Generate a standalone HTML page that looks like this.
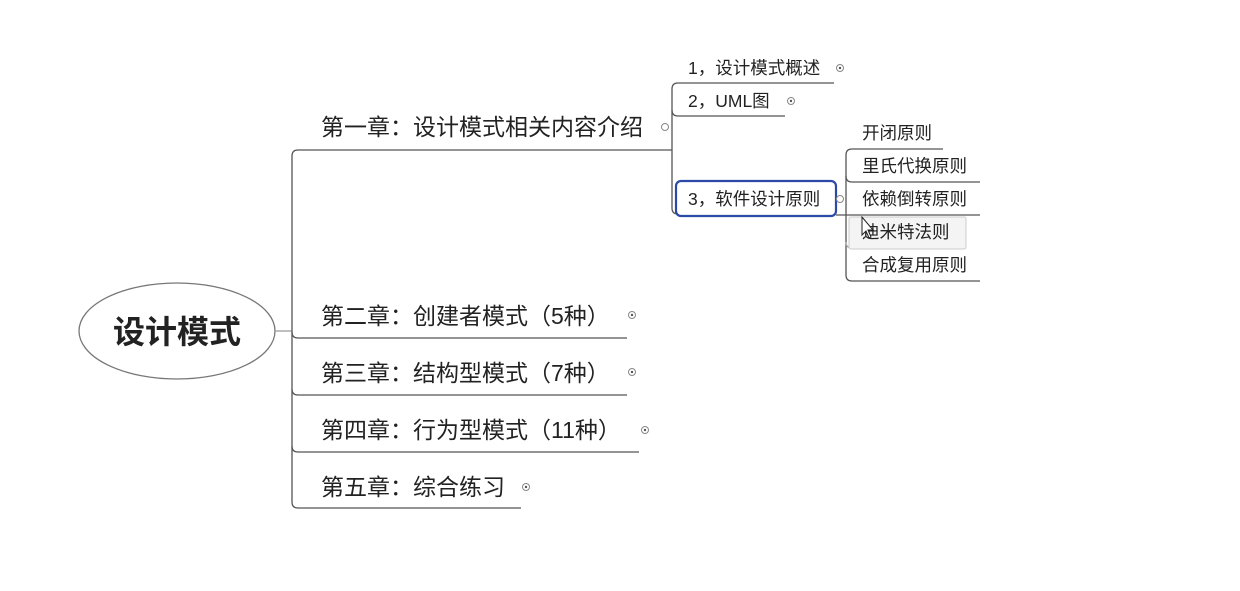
<!DOCTYPE html>
<html><head><meta charset="utf-8"><style>
html,body{margin:0;padding:0;background:#fff;width:1240px;height:591px;overflow:hidden}
svg text{font-family:"Liberation Sans","Noto Sans CJK SC",sans-serif;fill:#222}
</style></head><body>
<svg width="1240" height="591" viewBox="0 0 1240 591" xmlns="http://www.w3.org/2000/svg">
<g fill="none" stroke="#555" stroke-width="1.3">
<ellipse cx="177" cy="331" rx="98" ry="48" stroke="#777"/>
<line x1="275" y1="331" x2="292" y2="331" stroke="#999"/>
<path d="M672 150 H298 Q292 150 292 156 V502 Q292 508 298 508 H521"/>
<path d="M292 332 Q292 338 298 338 H627"/>
<path d="M292 389 Q292 395 298 395 H627"/>
<path d="M292 446 Q292 452 298 452 H639"/>
<path d="M834 83 H678 Q672 83 672 89 V208 Q672 214 678 214"/>
<path d="M672 110 Q672 116 678 116 H785"/>
<path d="M943 149 H852 Q846 149 846 155 V275 Q846 281 852 281 H980"/>
<path d="M846 176 Q846 182 852 182 H980"/>
<path d="M836 215 H980"/>
<path d="M846 242 Q846 248 852 248 H966" stroke="#aaa"/>
</g>
<rect x="849" y="217" width="117" height="32" rx="2" fill="#f4f4f4" stroke="#ccc"/>
<rect x="676" y="181" width="160" height="35" rx="5" fill="#fff" stroke="#2b4aa8" stroke-width="2.2"/>
<g fill="#fff" stroke="#888" stroke-width="1">
<circle cx="665" cy="127" r="3.5"/><circle cx="632" cy="315" r="3.5"/><circle cx="632" cy="372" r="3.5"/>
<circle cx="645" cy="430" r="3.5"/><circle cx="526" cy="487" r="3.5"/><circle cx="840" cy="68" r="3.5"/>
<circle cx="791" cy="101" r="3.5"/><circle cx="840" cy="199" r="3.5"/>
</g>
<g fill="#555"><circle cx="632" cy="315" r="1.2"/><circle cx="632" cy="372" r="1.2"/><circle cx="645" cy="430" r="1.2"/><circle cx="526" cy="487" r="1.2"/><circle cx="840" cy="68" r="1.2"/><circle cx="791" cy="101" r="1.2"/></g>
<text x="177" y="343" font-size="32" font-weight="bold" text-anchor="middle" fill="#333">设计模式</text>
<g font-size="23" fill="#333">
<text x="321" y="135">第一章：设计模式相关内容介绍</text>
<text x="321" y="324">第二章：创建者模式（5种）</text>
<text x="321" y="381">第三章：结构型模式（7种）</text>
<text x="321" y="438">第四章：行为型模式（11种）</text>
<text x="321" y="495">第五章：综合练习</text>
</g>
<g font-size="17.5">
<text x="688" y="74">1，设计模式概述</text>
<text x="688" y="107">2，UML图</text>
<text x="688" y="205">3，软件设计原则</text>
<text x="862" y="139">开闭原则</text>
<text x="862" y="172">里氏代换原则</text>
<text x="862" y="205">依赖倒转原则</text>
<text x="862" y="238">迪米特法则</text>
<text x="862" y="271">合成复用原则</text>
</g>
<path d="M862 217 L862 235 L866 231 L869 238 L871 237 L868 230 L873 230 Z" fill="#fff" stroke="#222" stroke-width="1"/>
</svg>
</body></html>
